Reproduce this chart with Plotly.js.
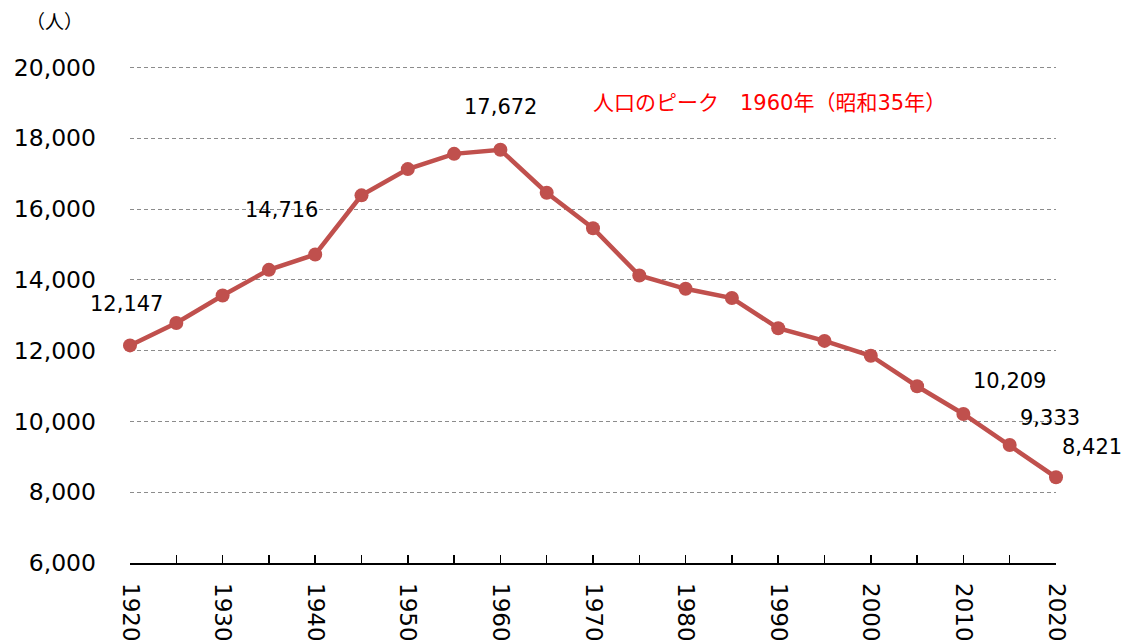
<!DOCTYPE html>
<html><head><meta charset="utf-8">
<script src="https://cdn.plot.ly/plotly-3.0.1.min.js"></script>
<style>html,body{margin:0;padding:0;background:#fff}#chart{width:1131px;height:641px}</style>
</head><body><div id="chart"></div>
<script>
const years = [1920,1925,1930,1935,1940,1945,1950,1955,1960,1965,1970,1975,1980,1985,1990,1995,2000,2005,2010,2015,2020];
const population = [12147,12780,13558,14282,14716,16386,17127,17558,17672,16459,15456,14121,13746,13484,12633,12274,11855,10994,10209,9333,8421];
const labelYears = [1920,1940,1960,2010,2015,2020];
const labelShifts = [[-4,41],[-34,44],[0,43],[46,33],[40,27],[36,30]];
const tickYears = years;
const tickText = years.map(y => (y % 10 === 0 ? String(y) : ''));
const yTicks = [6000,8000,10000,12000,14000,16000,18000,20000];
const peakNote = '人口のピーク　1960年（昭和35年）';
const unitLabel = '（人）';

const FONT = 'DejaVu Sans, Verdana, "Noto Sans CJK JP", sans-serif';
const red = '#C0504D';

const W = 1131, H = 641, L = 130, R = 75, T = 66, B = 78;

const annotations = labelYears.map((yr, i) => {
  const idx = years.indexOf(yr);
  return {
    x: yr, y: population[idx], xref: 'x', yref: 'y',
    xanchor: 'center', yanchor: 'middle',
    text: population[idx].toLocaleString('en-US'),
    showarrow: false, xshift: labelShifts[i][0], yshift: labelShifts[i][1],
    font: {family: FONT, size: 21, color: '#000'}
  };
});
annotations.push({
  x: 769, y: 103, xref: 'paper', yref: 'paper', text: peakNote, showarrow: false,
  xanchor: 'center', yanchor: 'middle',
  font: {family: FONT, size: 21, color: '#FF0000'}
});
annotations.push({
  x: 54, y: 20, xref: 'paper', yref: 'paper', text: unitLabel, showarrow: false,
  xanchor: 'center', yanchor: 'middle',
  font: {family: '"Noto Sans CJK JP", ' + FONT, size: 19, color: '#000'}
});
// convert pixel-placed text annotations to paper coords
annotations.forEach(a => {
  if (a.xref === 'paper') {
    a.x = (a.x - L) / (W - L - R);
    a.y = 1 - (a.y - T) / (H - T - B);
  }
});

const trace = {
  x: years, y: population, type: 'scatter', mode: 'lines+markers',
  line: {color: red, width: 4.5},
  marker: {color: red, size: 14},
  hoverinfo: 'skip', cliponaxis: false
};

const layout = {
  width: W, height: H,
  margin: {l: L, r: R, t: T, b: B, pad: 0},
  paper_bgcolor: '#fff', plot_bgcolor: '#fff',
  showlegend: false,
  font: {family: FONT, color: '#000'},
  xaxis: {
    range: [1920, 2020], tickmode: 'array', tickvals: tickYears, ticktext: tickText,
    tickangle: 90, ticks: 'inside', ticklen: 8, tickwidth: 1.5, tickcolor: '#000',
    showline: true, linecolor: '#000', linewidth: 1.5, showgrid: false, zeroline: false,
    tickfont: {family: FONT, size: 23, color: '#000'}, ticklabelstandoff: 14
  },
  yaxis: {
    range: [6000, 20040], tickmode: 'array', tickvals: yTicks,
    ticktext: yTicks.map(v => v.toLocaleString('en-US')),
    showline: false, zeroline: false, ticks: '',
    showgrid: true, gridcolor: '#8c8c8c', gridwidth: 1, griddash: '4px,3px',
    tickfont: {family: FONT, size: 23.5, color: '#000'}, ticklabelstandoff: 33
  },
  annotations: annotations
};

Plotly.newPlot('chart', [trace], layout, {displayModeBar: false, staticPlot: true});
</script></body></html>
